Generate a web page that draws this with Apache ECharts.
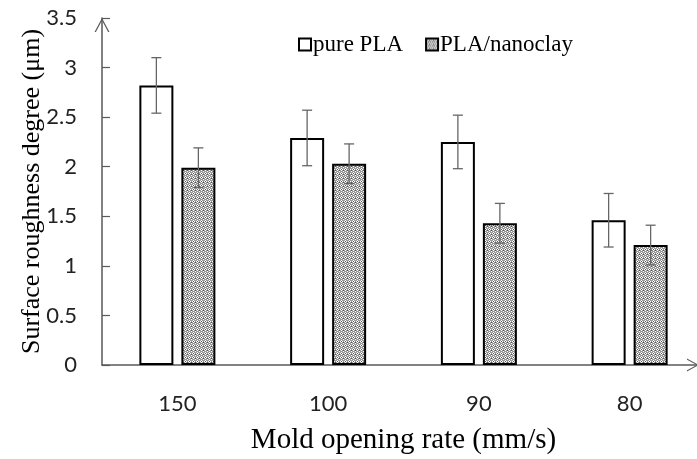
<!DOCTYPE html>
<html>
<head>
<meta charset="utf-8">
<script src="https://cdn.jsdelivr.net/npm/echarts@6/dist/echarts.min.js"></script>
<style>
  html, body { margin: 0; padding: 0; background: #fff; }
  #main { width: 697px; height: 459px; }
</style>
</head>
<body>
<div id="main"></div>
<script>
const categories = ['150', '100', '90', '80']
const purePLA = [2.82, 2.29, 2.25, 1.46]
const purePLAErr = [0.28, 0.28, 0.27, 0.27]
const nanoclay = [1.99, 2.03, 1.43, 1.21]
const nanoclayErr = [0.2, 0.2, 0.2, 0.2]
const yTicks = { min: 0, max: 3.5, interval: 0.5 }

// grey checker fill like the excel pattern
function makePattern() {
    const c = document.createElement('canvas')
    c.width = 4
    c.height = 4
    const ctx = c.getContext('2d')
    ctx.fillStyle = '#9a9a9a'
    ctx.fillRect(0, 0, 4, 4)
    ctx.fillStyle = '#ffffff'
    ;[[1, 0], [0, 1], [2, 1], [1, 2], [3, 3]].forEach(p => ctx.fillRect(p[0], p[1], 1, 1))
    ctx.fillStyle = '#555555'
    ctx.fillRect(1, 1, 1, 1)
    ctx.fillRect(3, 2, 1, 1)
    return c
}

const BAR_W = 34
const BAR_GAP = 8
const arrowPath = 'path://M0,14 L7.5,0 L15,14 L13.6,14 L7.5,2.6 L1.4,14 Z'

function errorSeries(name, values, errs, offset) {
    return {
        name: name,
        type: 'custom',
        z: 5,
        silent: true,
        data: values.map((v, i) => [i, v - errs[i], v + errs[i]]),
        renderItem: function (params, api) {
            const hi = api.coord([api.value(0), api.value(2)])
            const lo = api.coord([api.value(0), api.value(1)])
            const x = hi[0] + offset
            const style = { stroke: '#666', lineWidth: 1.3 }
            return {
                type: 'group',
                children: [
                    { type: 'line', shape: { x1: x, y1: hi[1], x2: x, y2: lo[1] }, style: style },
                    { type: 'line', shape: { x1: x - 5, y1: hi[1], x2: x + 5, y2: hi[1] }, style: style },
                    { type: 'line', shape: { x1: x - 5, y1: lo[1], x2: x + 5, y2: lo[1] }, style: style }
                ]
            }
        }
    }
}

const chart = echarts.init(document.getElementById('main'), null, { renderer: 'canvas', devicePixelRatio: 1 })
const option = {
    animation: false,
    backgroundColor: '#fff',
    grid: { left: 102, width: 603, top: 18, bottom: 94, containLabel: false, outerBoundsMode: 'none' },
    legend: {
        data: ['pure PLA', 'PLA/nanoclay'],
        left: 293,
        top: 28,
        itemWidth: 12,
        itemHeight: 12,
        itemGap: 22,
        icon: 'rect',
        textStyle: { fontFamily: 'Liberation Serif', fontSize: 23, color: '#000', padding: [0, 0, 0, -3] }
    },
    xAxis: {
        type: 'category',
        data: categories,
        name: 'Mold opening rate (mm/s)',
        nameLocation: 'middle',
        nameGap: 61,
        nameMoveOverlap: false,
        nameTextStyle: { fontFamily: 'Liberation Serif', fontSize: 29, color: '#000' },
        axisLine: {
            lineStyle: { color: '#595959', width: 1.5 },
            symbol: ['none', arrowPath],
            symbolSize: [13, 12],
            symbolOffset: [0, -12]
        },
        axisTick: { show: false },
        axisLabel: { fontFamily: 'Lato', fontSize: 22, color: '#222', margin: 28 }
    },
    yAxis: {
        type: 'value',
        min: yTicks.min,
        max: yTicks.max,
        interval: yTicks.interval,
        name: 'Surface roughness degree (μm)',
        nameLocation: 'middle',
        nameGap: 57,
        nameMoveOverlap: false,
        nameTextStyle: { fontFamily: 'Liberation Serif', fontSize: 26, color: '#000' },
        axisLine: {
            show: true,
            lineStyle: { color: '#595959', width: 1.5 },
            symbol: ['none', arrowPath],
            symbolSize: [15, 14],
            symbolOffset: [0, -7]
        },
        axisTick: { show: true, inside: true, length: 8, lineStyle: { color: '#595959', width: 1.2 } },
        splitLine: { show: false },
        axisLabel: { fontFamily: 'Lato', fontSize: 22, color: '#222', margin: 25 }
    },
    series: [
        {
            name: 'pure PLA',
            type: 'bar',
            data: purePLA,
            barWidth: BAR_W,
            barGap: (BAR_GAP / BAR_W * 100) + '%',
            itemStyle: { color: '#fff', borderColor: '#000', borderWidth: 2 }
        },
        {
            name: 'PLA/nanoclay',
            type: 'bar',
            data: nanoclay,
            barWidth: BAR_W,
            itemStyle: { color: { image: makePattern(), repeat: 'repeat' }, borderColor: '#000', borderWidth: 2 }
        },
        errorSeries('err pure', purePLA, purePLAErr, -(BAR_W + BAR_GAP) / 2),
        errorSeries('err nano', nanoclay, nanoclayErr, (BAR_W + BAR_GAP) / 2)
    ]
}
chart.setOption(option)
window.addEventListener('resize', () => {
    chart.resize()
})
</script>
</body>
</html>
